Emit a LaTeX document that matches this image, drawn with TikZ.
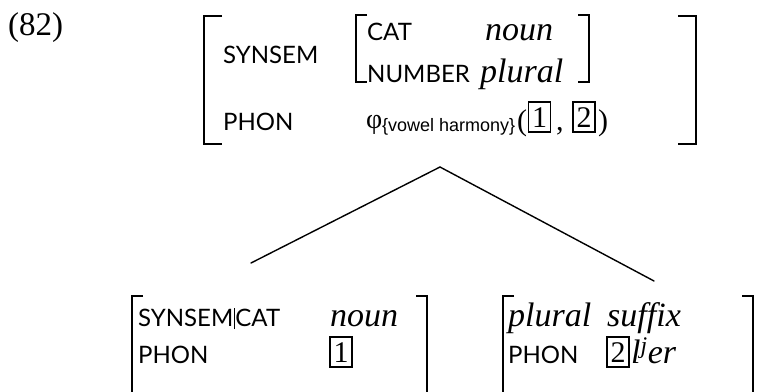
\documentclass[tikz,border=0pt]{standalone}
\usepackage{fontspec}
\setmainfont{Liberation Serif}
\newfontfamily\labfont{Lato}
\newfontfamily\subfont{Liberation Sans}
\begin{document}
\begin{tikzpicture}[x=1pt,y=-1pt,
  lab/.style={font=\labfont\fontsize{24}{26}\selectfont, inner sep=0pt, anchor=base west},
  val/.style={font=\itshape\fontsize{34}{36}\selectfont, inner sep=0pt, anchor=base west},
  ex/.style={font=\fontsize{30}{32}\selectfont, inner sep=0pt, anchor=base west},
  tagbox/.style={draw, line width=1.2pt, inner sep=0pt, minimum width=22pt, minimum height=30pt,
     font=\fontsize{30}{32}\selectfont, text height=20pt, text depth=0pt},
  brk/.style={line width=1.7pt},
  branch/.style={line width=1.4pt, line cap=round}]
\useasboundingbox (0,0) rectangle (762,391);
% example number
\node[ex, font=\fontsize{33}{35}\selectfont] (num) at (8,35) {(82)};
% top AVM
\draw[brk] (222,16) -- (204,16) -- (204,144) -- (222,144);
\draw[brk] (678,16) -- (696,16) -- (696,144) -- (678,144);
\draw[brk] (367,15) -- (356,15) -- (356,82) -- (367,82);
\draw[brk] (578,15) -- (589,15) -- (589,82) -- (578,82);
\node[lab] (synsem) at (223,63) {SYNSEM};
\node[lab] (cat) at (367,40) {CAT};
\node[val] (noun) at (485,40) {noun};
\node[lab] (number) at (367,82) {NUMBER};
\node[val] (plural) at (480,82) {plural};
\node[lab] (phon) at (223,130) {PHON};
\node[ex, font=\fontsize{28}{30}\selectfont] (phi) at (366,128) {φ};
\node[inner sep=0pt, anchor=base west, font=\subfont\fontsize{18}{20}\selectfont] (vh) at (382,131) {\{vowel harmony\}};
\node[ex] (lp) at (517,130) {(};
\node[tagbox] (b1) at (539.5,117) {1};
\node[ex] (comma) at (556,130) {,};
\node[tagbox] (b2) at (584,117) {2};
\node[ex] (rp) at (598,130) {)};
% tree
\coordinate (apex) at (440,167);
\coordinate (left) at (251,263);
\coordinate (right) at (654,281);
\draw[branch] (left) -- (apex) -- (right);
% bottom left AVM
\draw[brk] (143,296) -- (132,296) -- (132,392);
\draw[brk] (416,296) -- (427,296) -- (427,392);
\node[lab] (sc) at (138,326) {SYNSEM\kern0.5pt\rule[-3pt]{1.1pt}{21pt}\kern0.5pt CAT};
\node[val] (noun2) at (330,326) {noun};
\node[lab] (phon2) at (138,363) {PHON};
\node[tagbox] (t1) at (341,352) {1};
% bottom right AVM
\draw[brk] (514,296) -- (503,296) -- (503,392);
\draw[brk] (742,296) -- (753,296) -- (753,392);
\node[val] (plural2) at (508,326) {plural};
\node[val] (suffix) at (607,326) {suffix};
\node[lab] (phon3) at (508,363) {PHON};
\node[tagbox] (t2) at (618,352) {2};
\node[val] (ler) at (631,363) {l\textsuperscript{j}er};
\end{tikzpicture}
\end{document}
